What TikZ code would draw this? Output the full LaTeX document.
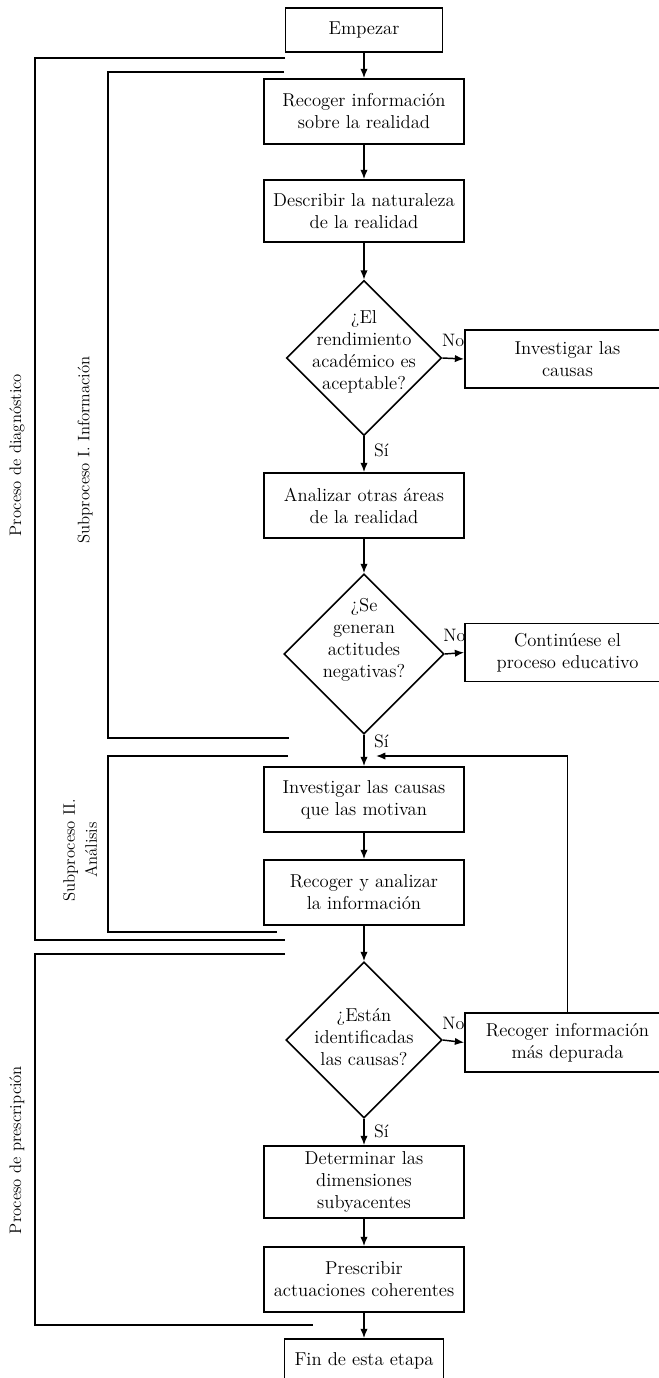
\documentclass[tikz,border=0pt]{standalone}
\usepackage{fontspec}
\usetikzlibrary{shapes.geometric,arrows.meta}
\begin{document}
\begin{tikzpicture}[x=0.75pt,y=-0.75pt,
	every node/.style={font=\fontsize{12.5}{16.5}\selectfont},
	box/.style={draw,line width=1.2pt,align=center,inner sep=2pt,minimum width=150pt,minimum height=48.75pt,font=\fontsize{14}{16.5}\selectfont},
	sidebox/.style={box,minimum width=153.75pt,minimum height=43.5pt},
	decision/.style={diamond,draw,line width=1.2pt,inner sep=0pt},
	qtext/.style={align=center,inner sep=0pt,font=\fontsize{14}{16.5}\selectfont},
	lab/.style={inner sep=1pt,font=\fontsize{13.5}{16}\selectfont},
	arr/.style={-{Latex[length=7pt,width=5.5pt]},line width=1.1pt},
	brace/.style={line width=1.2pt}]
	% page size, the right boxes run off it
	\useasboundingbox (0,0) rectangle (659,1378);
	\clip (0,0) rectangle (659,1378);
	% the main column
	\node[box,minimum width=117.75pt,minimum height=33pt] (start) at (364,30) {Empezar};
	\node[box] (info) at (364,111.5) {Recoger información\\sobre la realidad};
	\node[box,minimum height=46.5pt] (desc) at (364,211) {Describir la naturaleza\\de la realidad};
	\node[decision,minimum width=116.25pt,minimum height=116.25pt] (d1) at (364,358) {};
	\node[qtext] (q1) at (364,352) {¿El\\rendimiento\\académico es\\aceptable?};
	\node[box] (anal) at (364,505.5) {Analizar otras áreas\\de la realidad};
	\node[decision,minimum width=120pt,minimum height=120pt] (d2) at (364,654) {};
	\node[qtext] (q2) at (364,640) {¿Se\\generan\\actitudes\\negativas?};
	\node[box] (mot) at (364,799.5) {Investigar las causas\\que las motivan};
	\node[box] (recan) at (364,892.5) {Recoger y analizar\\la información};
	\node[decision,minimum width=117pt,minimum height=117pt] (d3) at (364,1040) {};
	\node[qtext] (q3) at (364,1037) {¿Están\\identificadas\\las causas?};
	\node[box,minimum height=54pt] (dims) at (364,1182) {Determinar las\\dimensiones\\subyacentes};
	\node[box] (presc) at (364,1279.5) {Prescribir\\actuaciones coherentes};
	\node[box,minimum width=119.25pt,minimum height=33pt] (fin) at (364,1361) {Fin de esta etapa};
	% the right column
	\node[sidebox] (causas) at (567.5,359) {Investigar las\\causas};
	\node[sidebox] (cont) at (567.5,652.5) {Continúese el\\proceso educativo};
	\node[sidebox,minimum height=44.25pt] (dep) at (567.5,1042.5) {Recoger información\\más depurada};
	% arrows
	\draw[arr] (start) -- (info);
	\draw[arr] (info) -- (desc);
	\draw[arr] (desc) -- (d1.north);
	\draw[arr] (d1.east) -- node[lab,above=7pt] (no1) {No} (causas.west);
	\draw[arr] (d1.south) -- node[lab,right=6pt,pos=0.4] (si1) {Sí} (anal.north);
	\draw[arr] (anal) -- (d2.north);
	\draw[arr] (d2.east) -- node[lab,above=7pt] (no2) {No} (cont.west);
	\draw[arr] (d2.south) -- node[lab,right=6pt,pos=0.2] (si2) {Sí} (mot.north);
	\draw[arr] (mot) -- (recan);
	\draw[arr] (recan) -- (d3.north);
	\draw[arr] (d3.east) -- node[lab,above=7pt] (no3) {No} (dep.west);
	\draw[arr] (d3.south) -- node[lab,right=6pt,pos=0.48] (si3) {Sí} (dims.north);
	\draw[arr] (dims) -- (presc);
	\draw[arr] (presc) -- (fin);
	% loop back
	\coordinate (back) at (376,756);
	\draw[arr] (dep.north) |- (back);
	% brackets on the left
	\draw[brace] (285,58) -- (35,58) -- (35,940) -- (285,940);
	\draw[brace] (284,72) -- (108,72) -- (108,738) -- (289,738);
	\draw[brace] (288,756) -- (108,756) -- (108,932) -- (277,932);
	\draw[brace] (285,954) -- (35,954) -- (35,1325) -- (313,1325);
	\node[rotate=90] (diag) at (17,455) {Proceso de diagnóstico};
	\node[rotate=90] (sub1) at (85,450) {Subproceso I. Información};
	\node[rotate=90,align=center] (sub2) at (80,850) {Subproceso II.\\Análisis};
	\node[rotate=90] (pres) at (17,1150) {Proceso de prescripción};
\end{tikzpicture}
\end{document}
